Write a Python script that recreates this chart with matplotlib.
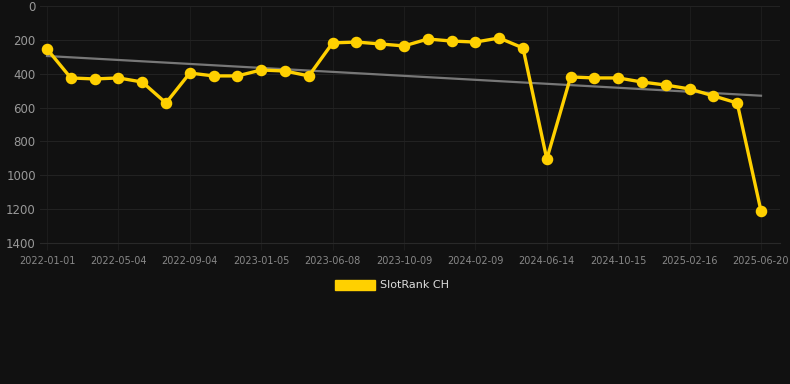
import numpy as np
import matplotlib
matplotlib.use("Agg")
import matplotlib.pyplot as plt
from matplotlib.patches import Patch

# rank values, one per snapshot (lower is better)
ranks = [254, 425, 431, 425, 449, 573, 396, 413, 413, 378,
         384, 413, 218, 213, 224, 236, 195, 207, 213, 189,
         248, 904, 419, 425, 425, 449, 467, 490, 531, 573, 1211]
tick_labels = ['2022-01-01', '2022-05-04', '2022-09-04', '2023-01-05',
               '2023-06-08', '2023-10-09', '2024-02-09', '2024-06-14',
               '2024-10-15', '2025-02-16', '2025-06-20']
yticks = [0, 200, 400, 600, 800, 1000, 1200, 1400]

bg = '#111111'
gold = '#FFD000'

fig = plt.figure(figsize=(7.9, 3.84), dpi=100, facecolor=bg)
W, H = 790, 384
ax = fig.add_axes([40 / W, (H - 243) / H, 740 / W, 237 / H], facecolor=bg)

x = np.arange(len(ranks))
ppu = (761 - 47) / 30.0  # pixels per category step

# trend line (least squares on the ranks)
k, b = np.polyfit(x, ranks, 1)
ax.plot(x, k * x + b, color='#777777', lw=1.6, zorder=2)

ax.plot(x, ranks, color=gold, lw=2.4, marker='o', ms=7.3, mfc=gold, mec=gold, zorder=3)

ax.set_xlim(-7 / ppu, 30 + 19 / ppu)
ax.set_ylim(1400, 0)
ax.set_yticks(yticks)
ax.set_xticks(x[::3])
ax.set_xticklabels(tick_labels)
ax.grid(True, axis='y', color='#222222', lw=0.8)
ax.grid(True, axis='x', color='#1c1c1c', lw=0.8)
ax.set_axisbelow(True)
for s in ax.spines.values():
    s.set_visible(False)
ax.spines['bottom'].set_visible(True)
ax.spines['bottom'].set_color('#292929')
ax.spines['bottom'].set_linewidth(0.8)
ax.tick_params(axis='y', length=0, pad=3, labelsize=8.5, labelcolor='#999999')
ax.tick_params(axis='x', length=5, width=0.8, color='#1c1c1c', pad=4,
               labelsize=7, labelcolor='#888888')

fig.legend(handles=[Patch(facecolor=gold, edgecolor=gold, label='SlotRank CH')],
           loc='center', bbox_to_anchor=(392 / W, 1 - 285 / H), frameon=False,
           fontsize=8, labelcolor='#dddddd', handlelength=3.6, handleheight=1.0,
           handletextpad=0.5)

fig.savefig('out.png', facecolor=bg)
